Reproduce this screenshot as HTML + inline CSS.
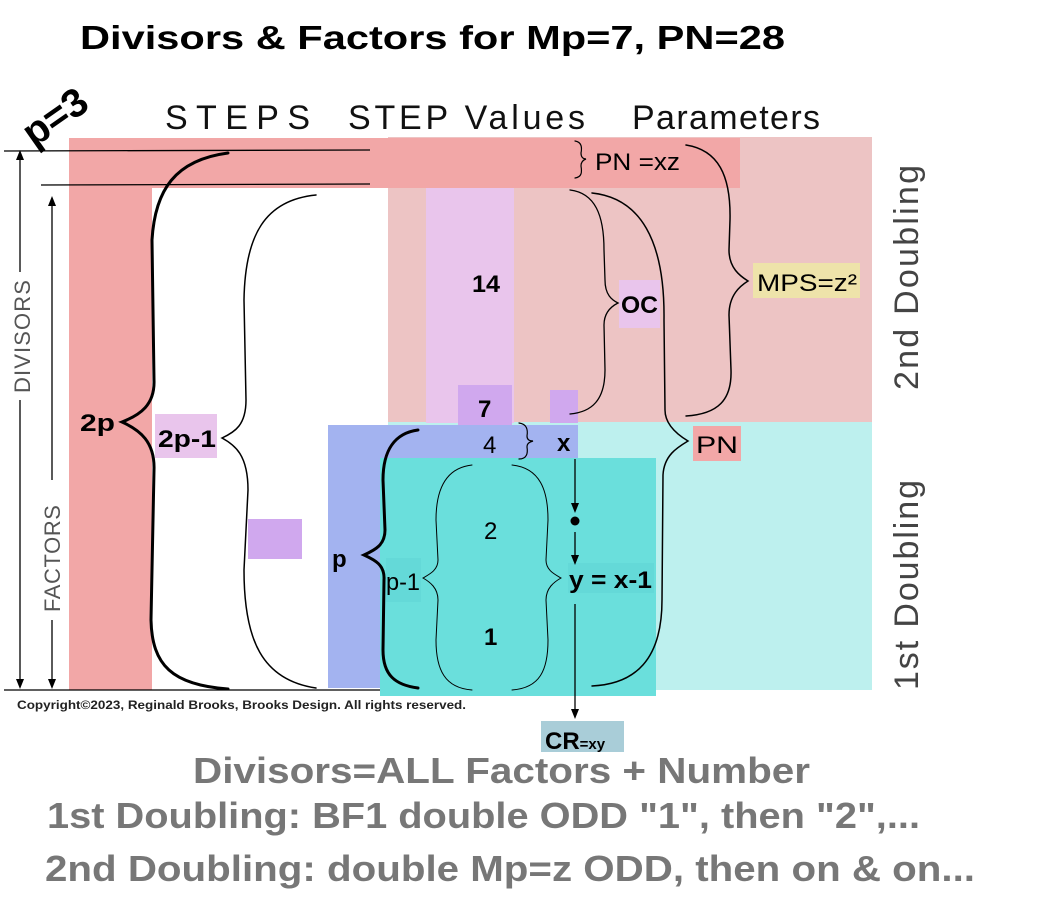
<!DOCTYPE html>
<html><head><meta charset="utf-8"><style>
html,body{margin:0;padding:0;background:#fff;}
svg{display:block;}
text{font-family:"Liberation Sans",sans-serif;}
</style></head><body>
<svg width="1050" height="898" viewBox="0 0 1050 898" xmlns="http://www.w3.org/2000/svg">
<rect x="388" y="137" width="484" height="286" fill="#edc4c4"/>
<rect x="578" y="422" width="294" height="268" fill="#bdf0ee"/>
<rect x="388" y="422" width="190" height="4" fill="#bdf0ee"/>
<rect x="69" y="138" width="671" height="50" fill="#f2a7a7"/>
<rect x="69" y="138" width="83" height="552" fill="#f2a7a7"/>
<rect x="426" y="188" width="88" height="235" fill="#e9c5ec"/>
<rect x="458" y="385" width="54" height="40" fill="#d0a8ee"/>
<rect x="550" y="390" width="28" height="33" fill="#d0a8ee"/>
<rect x="328" y="425" width="250" height="34" fill="#a3b3f0"/>
<rect x="328" y="425" width="58" height="263" fill="#a3b3f0"/>
<rect x="380" y="458" width="276" height="238" fill="#6adfdc"/>
<rect x="386" y="558" width="35" height="44" fill="#64d9d8"/>
<rect x="568" y="563" width="86" height="30" fill="#64d9d8"/>
<rect x="693" y="426" width="48" height="35" fill="#f2a7a7"/>
<rect x="753" y="263" width="107" height="35" fill="#eee3aa"/>
<rect x="619" y="280" width="41" height="48" fill="#e9c5ec"/>
<rect x="155" y="414" width="62" height="44" fill="#e9c5ec"/>
<rect x="248" y="519" width="54" height="40" fill="#d0a8ee"/>
<rect x="541" y="721" width="83" height="31" fill="#a9cdd8"/>
<g stroke="#000" stroke-width="1.3" fill="none">
<line x1="4" y1="151" x2="370" y2="150"/>
<line x1="41" y1="185" x2="370" y2="184"/>
<line x1="4" y1="690" x2="380" y2="690"/>
<line x1="20" y1="160" x2="20" y2="272"/>
<line x1="20" y1="400" x2="20" y2="680"/>
<line x1="52" y1="205" x2="52" y2="480"/>
<line x1="52" y1="620" x2="52" y2="680"/>
</g>
<g fill="#000">
<path d="M20,150 L16,160 L24,160Z"/><path d="M20,689 L16,679 L24,679Z"/>
<path d="M52,196 L48,206 L56,206Z"/><path d="M52,689 L48,679 L56,679Z"/>
</g>
<g stroke="#000" fill="none" stroke-linecap="round">
<path stroke-width="3" d="M228,153 C175,160 155,190 152,240 L154,380 C155,405 140,415 122,422 C140,430 155,442 154,470 L151,620 C152,665 172,685 228,689"/>
<path stroke-width="1.5" d="M316,195 C265,200 245,235 244,300 L246,400 C246,425 235,432 222,438 C235,445 248,455 248,490 L244,570 C244,640 262,680 316,688"/>
<path stroke-width="3" d="M418,430 C395,433 383,450 383,480 L385,530 C385,545 375,550 364,555 C375,560 385,565 384,580 L383,650 C383,675 395,685 418,688"/>
<path stroke-width="1" d="M472,465 C445,468 436,490 436,520 L438,560 C438,570 430,574 423,578 C430,582 438,588 438,600 L436,640 C436,670 445,688 472,690"/>
<path stroke-width="1" d="M512,465 C540,468 548,490 548,520 L546,560 C546,570 554,574 561,578 C554,582 546,588 546,600 L548,640 C548,670 540,688 512,690"/>
<path stroke-width="1.2" d="M519,423 C527,424 528,430 527,436 C527,440 530,441 533,441 C530,442 527,443 527,447 C528,453 527,459 519,459"/>
<path stroke-width="1.2" d="M575,141 C582,142 582,148 581,153 C581,157 583,159 586,159 C583,160 581,162 581,166 C582,172 582,177 575,178"/>
<path stroke-width="1.3" d="M570,190 C595,193 604,215 604,250 L605,280 C605,295 612,300 618,303 C612,306 604,312 604,325 L605,370 C605,400 592,412 570,414"/>
<path stroke-width="1.5" d="M592,193 C640,198 665,240 664,320 L665,410 C665,425 678,435 688,441 C678,447 664,455 663,475 L662,600 C662,660 635,684 592,686"/>
<path stroke-width="1.5" d="M686,145 C718,150 731,175 730,220 L729,250 C729,268 740,276 748,281 C740,286 729,295 729,315 L731,370 C732,400 718,414 686,416"/>
</g>
<g stroke="#000" stroke-width="1.3">
<line x1="575" y1="459" x2="575" y2="506"/>
<line x1="575" y1="532" x2="575" y2="556"/>
<line x1="575" y1="604" x2="575" y2="711"/>
</g>
<g fill="#000">
<path d="M575,513 L571,503 L579,503Z"/>
<path d="M575,565 L571,555 L579,555Z"/>
<path d="M575,719 L571,709 L579,709Z"/>
<circle cx="575" cy="521" r="4.5"/>
</g>
<text x="80" y="49" font-size="33" font-weight="bold" textLength="705" lengthAdjust="spacingAndGlyphs">Divisors &amp; Factors for Mp=7, PN=28</text>
<text x="0" y="0" font-size="40" font-weight="bold" transform="translate(34,148) rotate(-35)">p=3</text>
<text x="165" y="129" font-size="34" font-weight="300" fill="#111" textLength="145">STEPS</text>
<text x="348" y="129" font-size="34" font-weight="300" fill="#111" textLength="237">STEP Values</text>
<text x="632" y="129" font-size="34" font-weight="300" fill="#111" textLength="188">Parameters</text>
<text font-size="22" fill="#555" transform="translate(30,393) rotate(-90)" textLength="113">DIVISORS</text>
<text font-size="22" fill="#555" transform="translate(60,612) rotate(-90)" textLength="107">FACTORS</text>
<text font-size="34" fill="#444" transform="translate(918,390) rotate(-90)" textLength="225">2nd Doubling</text>
<text font-size="34" fill="#444" transform="translate(918,690) rotate(-90)" textLength="210">1st Doubling</text>
<g font-size="24" font-weight="bold">
<text x="80" y="431" textLength="35" lengthAdjust="spacingAndGlyphs">2p</text>
<text x="158" y="447" textLength="58" lengthAdjust="spacingAndGlyphs">2p-1</text>
<text x="332" y="567">p</text>
<text x="386" y="590" font-weight="normal" textLength="34" lengthAdjust="spacingAndGlyphs">p-1</text>
<text x="472" y="292" textLength="28" lengthAdjust="spacingAndGlyphs">14</text>
<text x="478" y="417">7</text>
<text x="483" y="453" font-weight="normal">4</text>
<text x="484" y="539" font-weight="normal">2</text>
<text x="484" y="645">1</text>
<text x="557" y="451">x</text>
<text x="569" y="588" textLength="83" lengthAdjust="spacingAndGlyphs">y = x-1</text>
<text x="595" y="170" font-weight="normal" textLength="85" lengthAdjust="spacingAndGlyphs">PN =xz</text>
<text x="621" y="313" textLength="37" lengthAdjust="spacingAndGlyphs">OC</text>
<text x="757" y="291" font-weight="normal" textLength="100" lengthAdjust="spacingAndGlyphs">MPS=z²</text>
<text x="696" y="453" font-weight="normal" textLength="42" lengthAdjust="spacingAndGlyphs">PN</text>
<text x="545" y="749">CR<tspan font-size="15">=xy</tspan></text>
</g>
<text x="17" y="709" font-size="12" font-weight="bold" fill="#222" textLength="449" lengthAdjust="spacingAndGlyphs">Copyright©2023, Reginald Brooks, Brooks Design. All rights reserved.</text>
<g font-size="36" font-weight="bold" fill="#777">
<text x="193" y="783" textLength="617" lengthAdjust="spacingAndGlyphs">Divisors=ALL Factors + Number</text>
<text x="47" y="828" textLength="873" lengthAdjust="spacingAndGlyphs">1st Doubling: BF1 double ODD "1", then "2",...</text>
<text x="45" y="881" textLength="930" lengthAdjust="spacingAndGlyphs">2nd Doubling: double Mp=z ODD, then on &amp; on...</text>
</g>
</svg>
</body></html>
